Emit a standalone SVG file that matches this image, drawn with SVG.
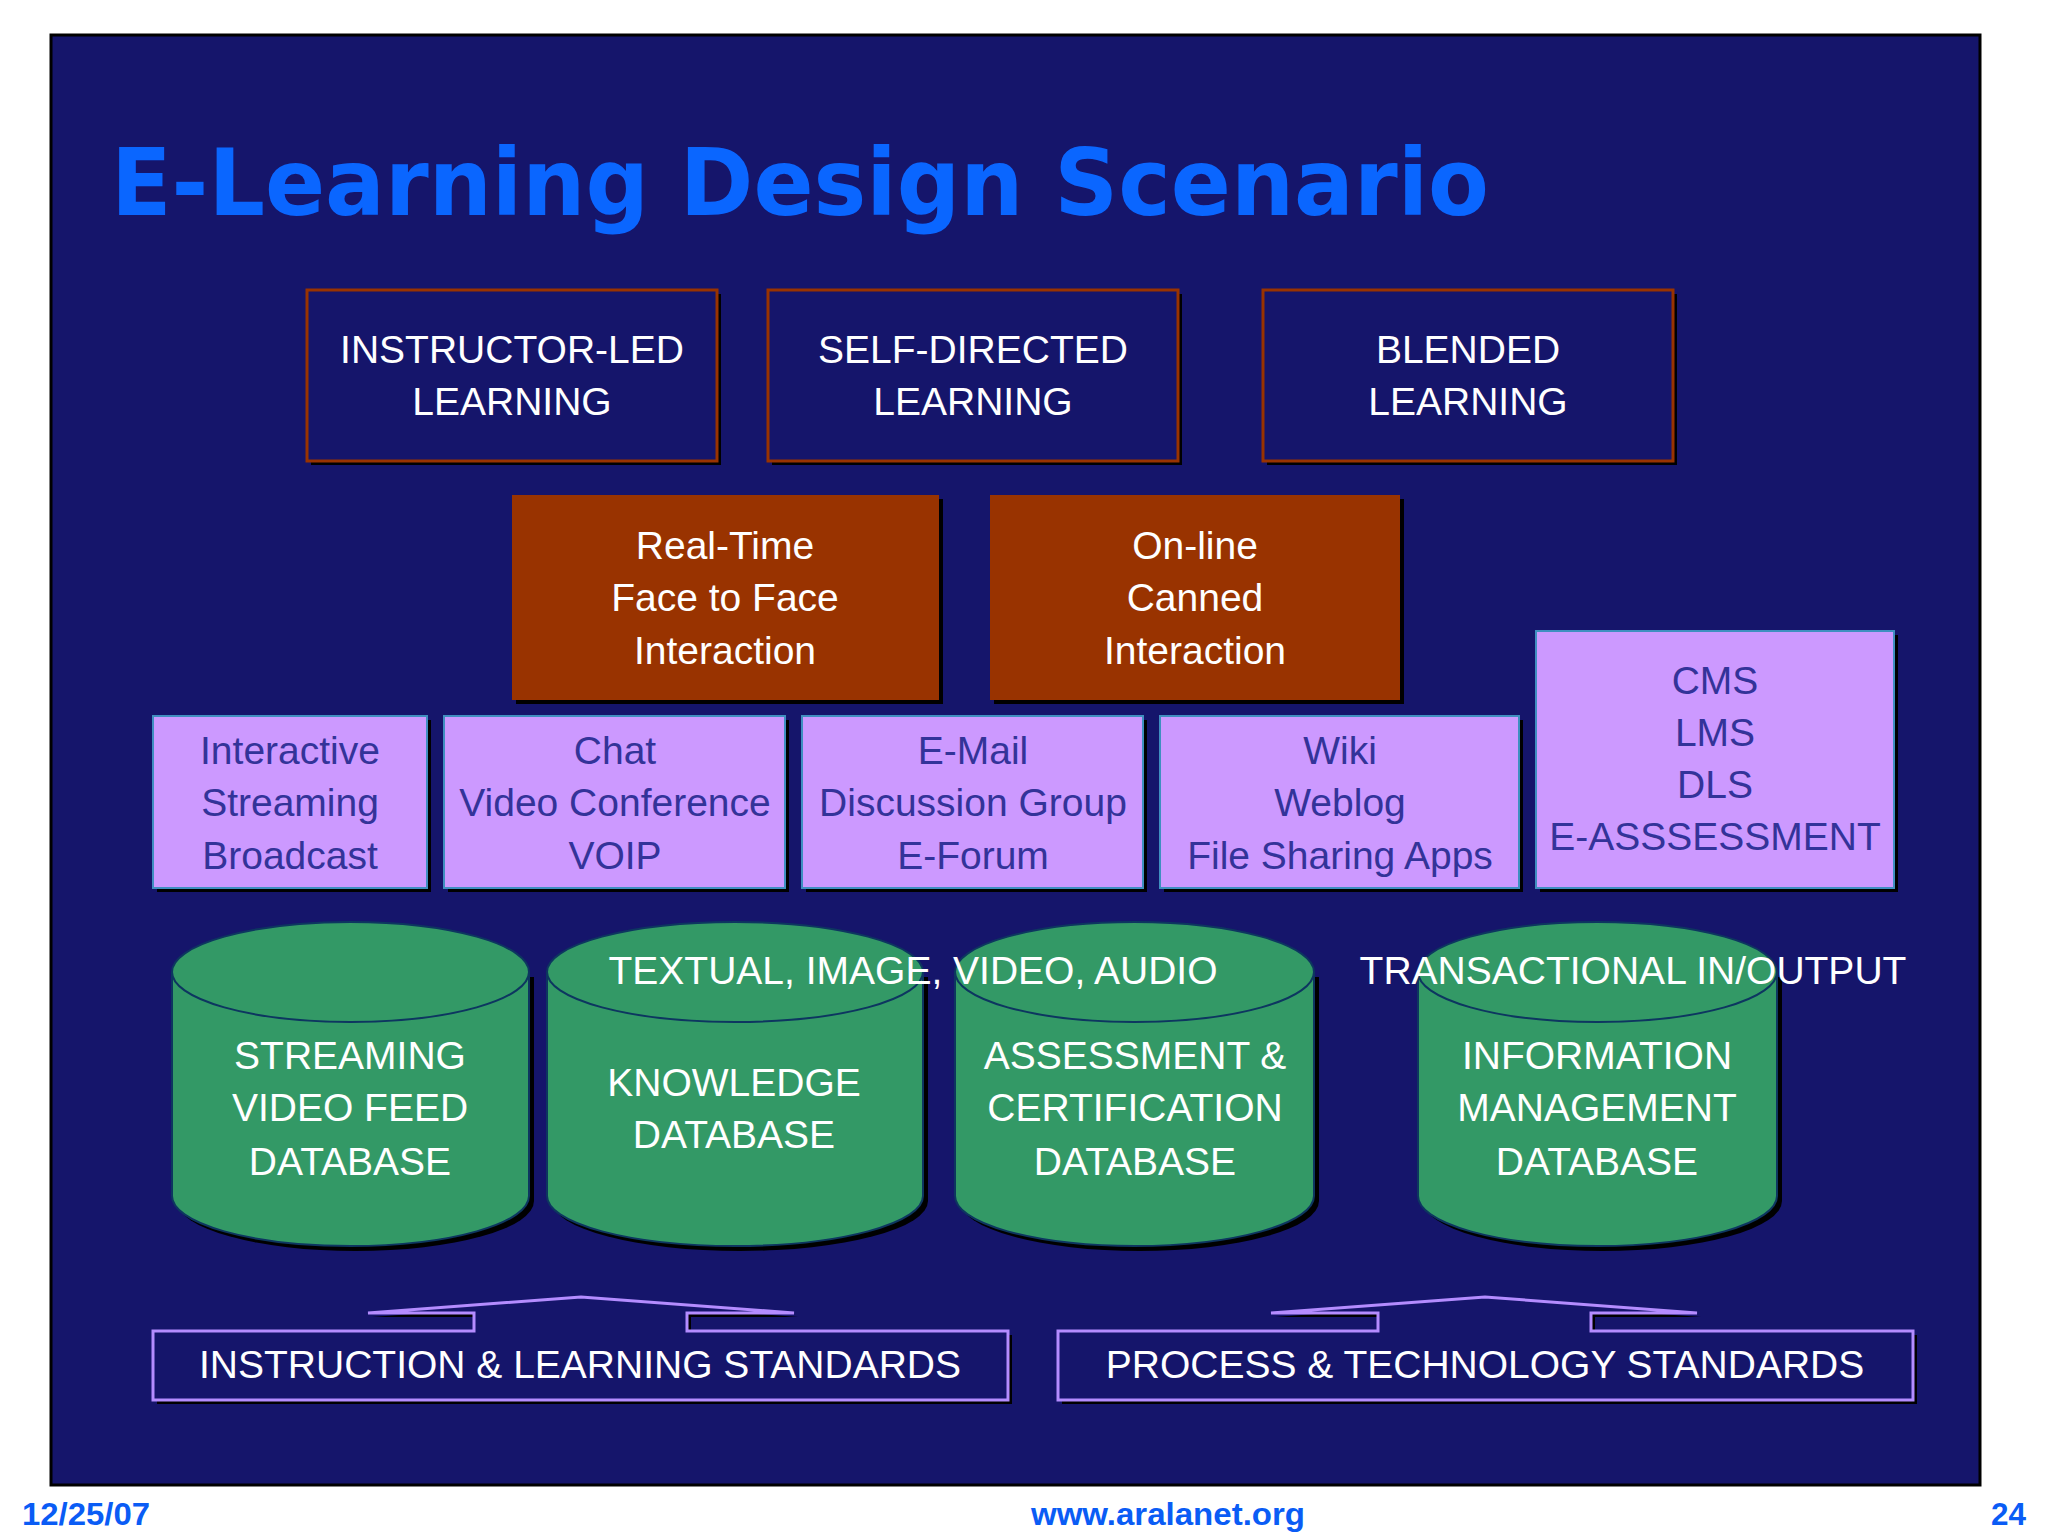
<svg xmlns="http://www.w3.org/2000/svg" width="2048" height="1536" viewBox="0 0 2048 1536">
<style>
.t{font-family:"Liberation Sans",Arial,sans-serif;font-size:39px;text-anchor:middle}
.w{fill:#ffffff}
.p{fill:#333399}
.sh{fill:#000000}
.topbox{fill:#15156b;stroke:#993300;stroke-width:3}
.brown{fill:#993300}
.purple{fill:#cc99ff;stroke:#3f8fc0;stroke-width:2}
.cyl{fill:#339966;stroke:#0d3660;stroke-width:2}
.std{fill:#15156b;stroke:#b48cff;stroke-width:3}
.foot{font-family:"Liberation Sans",Arial,sans-serif;font-weight:bold;font-size:31px;fill:#0a5cf5}
</style>
<rect x="0" y="0" width="2048" height="1536" fill="#ffffff"/>
<rect x="51" y="35" width="1929" height="1450" fill="#15156b" stroke="#000000" stroke-width="3"/>
<text x="111" y="215" font-family="DejaVu Sans, Verdana, sans-serif" font-weight="bold" font-size="92" fill="#0a66ff" textLength="1378" lengthAdjust="spacingAndGlyphs">E-Learning Design Scenario</text>

<g id="instructor-led">
<rect class="sh" x="311" y="294" width="410" height="171"/>
<rect class="topbox" x="307" y="290" width="410" height="171"/>
<text class="t w" x="512" y="363">INSTRUCTOR-LED</text>
<text class="t w" x="512" y="415">LEARNING</text>
</g>
<g id="self-directed">
<rect class="sh" x="772" y="294" width="410" height="171"/>
<rect class="topbox" x="768" y="290" width="410" height="171"/>
<text class="t w" x="973" y="363">SELF-DIRECTED</text>
<text class="t w" x="973" y="415">LEARNING</text>
</g>
<g id="blended">
<rect class="sh" x="1267" y="294" width="410" height="171"/>
<rect class="topbox" x="1263" y="290" width="410" height="171"/>
<text class="t w" x="1468" y="363">BLENDED</text>
<text class="t w" x="1468" y="415">LEARNING</text>
</g>

<g id="real-time">
<rect class="sh" x="516" y="499" width="427" height="205"/>
<rect class="brown" x="512" y="495" width="427" height="205"/>
<text class="t w" x="725" y="559">Real-Time</text>
<text class="t w" x="725" y="611">Face to Face</text>
<text class="t w" x="725" y="664">Interaction</text>
</g>
<g id="online">
<rect class="sh" x="994" y="499" width="410" height="205"/>
<rect class="brown" x="990" y="495" width="410" height="205"/>
<text class="t w" x="1195" y="559">On-line</text>
<text class="t w" x="1195" y="611">Canned</text>
<text class="t w" x="1195" y="664">Interaction</text>
</g>

<g id="interactive">
<rect class="sh" x="157" y="720" width="274" height="172"/>
<rect class="purple" x="153" y="716" width="274" height="172"/>
<text class="t p" x="290" y="764">Interactive</text>
<text class="t p" x="290" y="816">Streaming</text>
<text class="t p" x="290" y="869">Broadcast</text>
</g>
<g id="chat">
<rect class="sh" x="448" y="720" width="341" height="172"/>
<rect class="purple" x="444" y="716" width="341" height="172"/>
<text class="t p" x="615" y="764">Chat</text>
<text class="t p" x="615" y="816">Video Conference</text>
<text class="t p" x="615" y="869">VOIP</text>
</g>
<g id="email">
<rect class="sh" x="806" y="720" width="341" height="172"/>
<rect class="purple" x="802" y="716" width="341" height="172"/>
<text class="t p" x="973" y="764">E-Mail</text>
<text class="t p" x="973" y="816">Discussion Group</text>
<text class="t p" x="973" y="869">E-Forum</text>
</g>
<g id="wiki">
<rect class="sh" x="1164" y="720" width="359" height="172"/>
<rect class="purple" x="1160" y="716" width="359" height="172"/>
<text class="t p" x="1340" y="764">Wiki</text>
<text class="t p" x="1340" y="816">Weblog</text>
<text class="t p" x="1340" y="869">File Sharing Apps</text>
</g>
<g id="cms">
<rect class="sh" x="1540" y="635" width="358" height="257"/>
<rect class="purple" x="1536" y="631" width="358" height="257"/>
<text class="t p" x="1715" y="694">CMS</text>
<text class="t p" x="1715" y="746">LMS</text>
<text class="t p" x="1715" y="798">DLS</text>
<text class="t p" x="1715" y="850">E-ASSSESSMENT</text>
</g>

<g id="streaming-db">
<path class="sh" d="M177,977 L177,1201 A178.5,50 0 0 0 534,1201 L534,977 Z"/>
<path class="cyl" d="M172,972 L172,1196 A178.5,50 0 0 0 529,1196 L529,972"/>
<ellipse class="cyl" cx="350.5" cy="972" rx="178.5" ry="50"/>
<text class="t w" x="350" y="1069">STREAMING</text>
<text class="t w" x="350" y="1121">VIDEO FEED</text>
<text class="t w" x="350" y="1175">DATABASE</text>
</g>
<g id="knowledge-db">
<path class="sh" d="M552,977 L552,1201 A188,50 0 0 0 928,1201 L928,977 Z"/>
<path class="cyl" d="M547,972 L547,1196 A188,50 0 0 0 923,1196 L923,972"/>
<ellipse class="cyl" cx="735" cy="972" rx="188" ry="50"/>
<text class="t w" x="734" y="1096">KNOWLEDGE</text>
<text class="t w" x="734" y="1148">DATABASE</text>
</g>
<g id="assessment-db">
<path class="sh" d="M960,977 L960,1201 A179.5,50 0 0 0 1319,1201 L1319,977 Z"/>
<path class="cyl" d="M955,972 L955,1196 A179.5,50 0 0 0 1314,1196 L1314,972"/>
<ellipse class="cyl" cx="1134.5" cy="972" rx="179.5" ry="50"/>
<text class="t w" x="1135" y="1069">ASSESSMENT &amp;</text>
<text class="t w" x="1135" y="1121">CERTIFICATION</text>
<text class="t w" x="1135" y="1175">DATABASE</text>
</g>
<g id="information-db">
<path class="sh" d="M1423,977 L1423,1201 A179.5,50 0 0 0 1782,1201 L1782,977 Z"/>
<path class="cyl" d="M1418,972 L1418,1196 A179.5,50 0 0 0 1777,1196 L1777,972"/>
<ellipse class="cyl" cx="1597.5" cy="972" rx="179.5" ry="50"/>
<text class="t w" x="1597" y="1069">INFORMATION</text>
<text class="t w" x="1597" y="1121">MANAGEMENT</text>
<text class="t w" x="1597" y="1175">DATABASE</text>
</g>
<text class="t w" x="913" y="984">TEXTUAL, IMAGE, VIDEO, AUDIO</text>
<text class="t w" x="1633" y="984">TRANSACTIONAL IN/OUTPUT</text>

<g id="instruction-standards">
<path class="sh" d="M157,1335 L478,1335 L478,1317 L372,1317 L585,1301 L798,1317 L691,1317 L691,1335 L1012,1335 L1012,1404 L157,1404 Z"/>
<path class="std" d="M153,1331 L474,1331 L474,1313 L368,1313 L581,1297 L794,1313 L687,1313 L687,1331 L1008,1331 L1008,1400 L153,1400 Z"/>
<text class="t w" x="580" y="1378">INSTRUCTION &amp; LEARNING STANDARDS</text>
</g>
<g id="process-standards">
<path class="sh" d="M1062,1335 L1382,1335 L1382,1317 L1275,1317 L1489,1301 L1701,1317 L1595,1317 L1595,1335 L1917,1335 L1917,1404 L1062,1404 Z"/>
<path class="std" d="M1058,1331 L1378,1331 L1378,1313 L1271,1313 L1485,1297 L1697,1313 L1591,1313 L1591,1331 L1913,1331 L1913,1400 L1058,1400 Z"/>
<text class="t w" x="1485" y="1378">PROCESS &amp; TECHNOLOGY STANDARDS</text>
</g>

<g id="connectors"></g>

<text class="foot" x="22" y="1525" textLength="128" lengthAdjust="spacingAndGlyphs">12/25/07</text>
<text class="foot" x="1031" y="1525" textLength="274" lengthAdjust="spacingAndGlyphs">www.aralanet.org</text>
<text class="foot" x="1991" y="1525" textLength="35" lengthAdjust="spacingAndGlyphs">24</text>
</svg>
